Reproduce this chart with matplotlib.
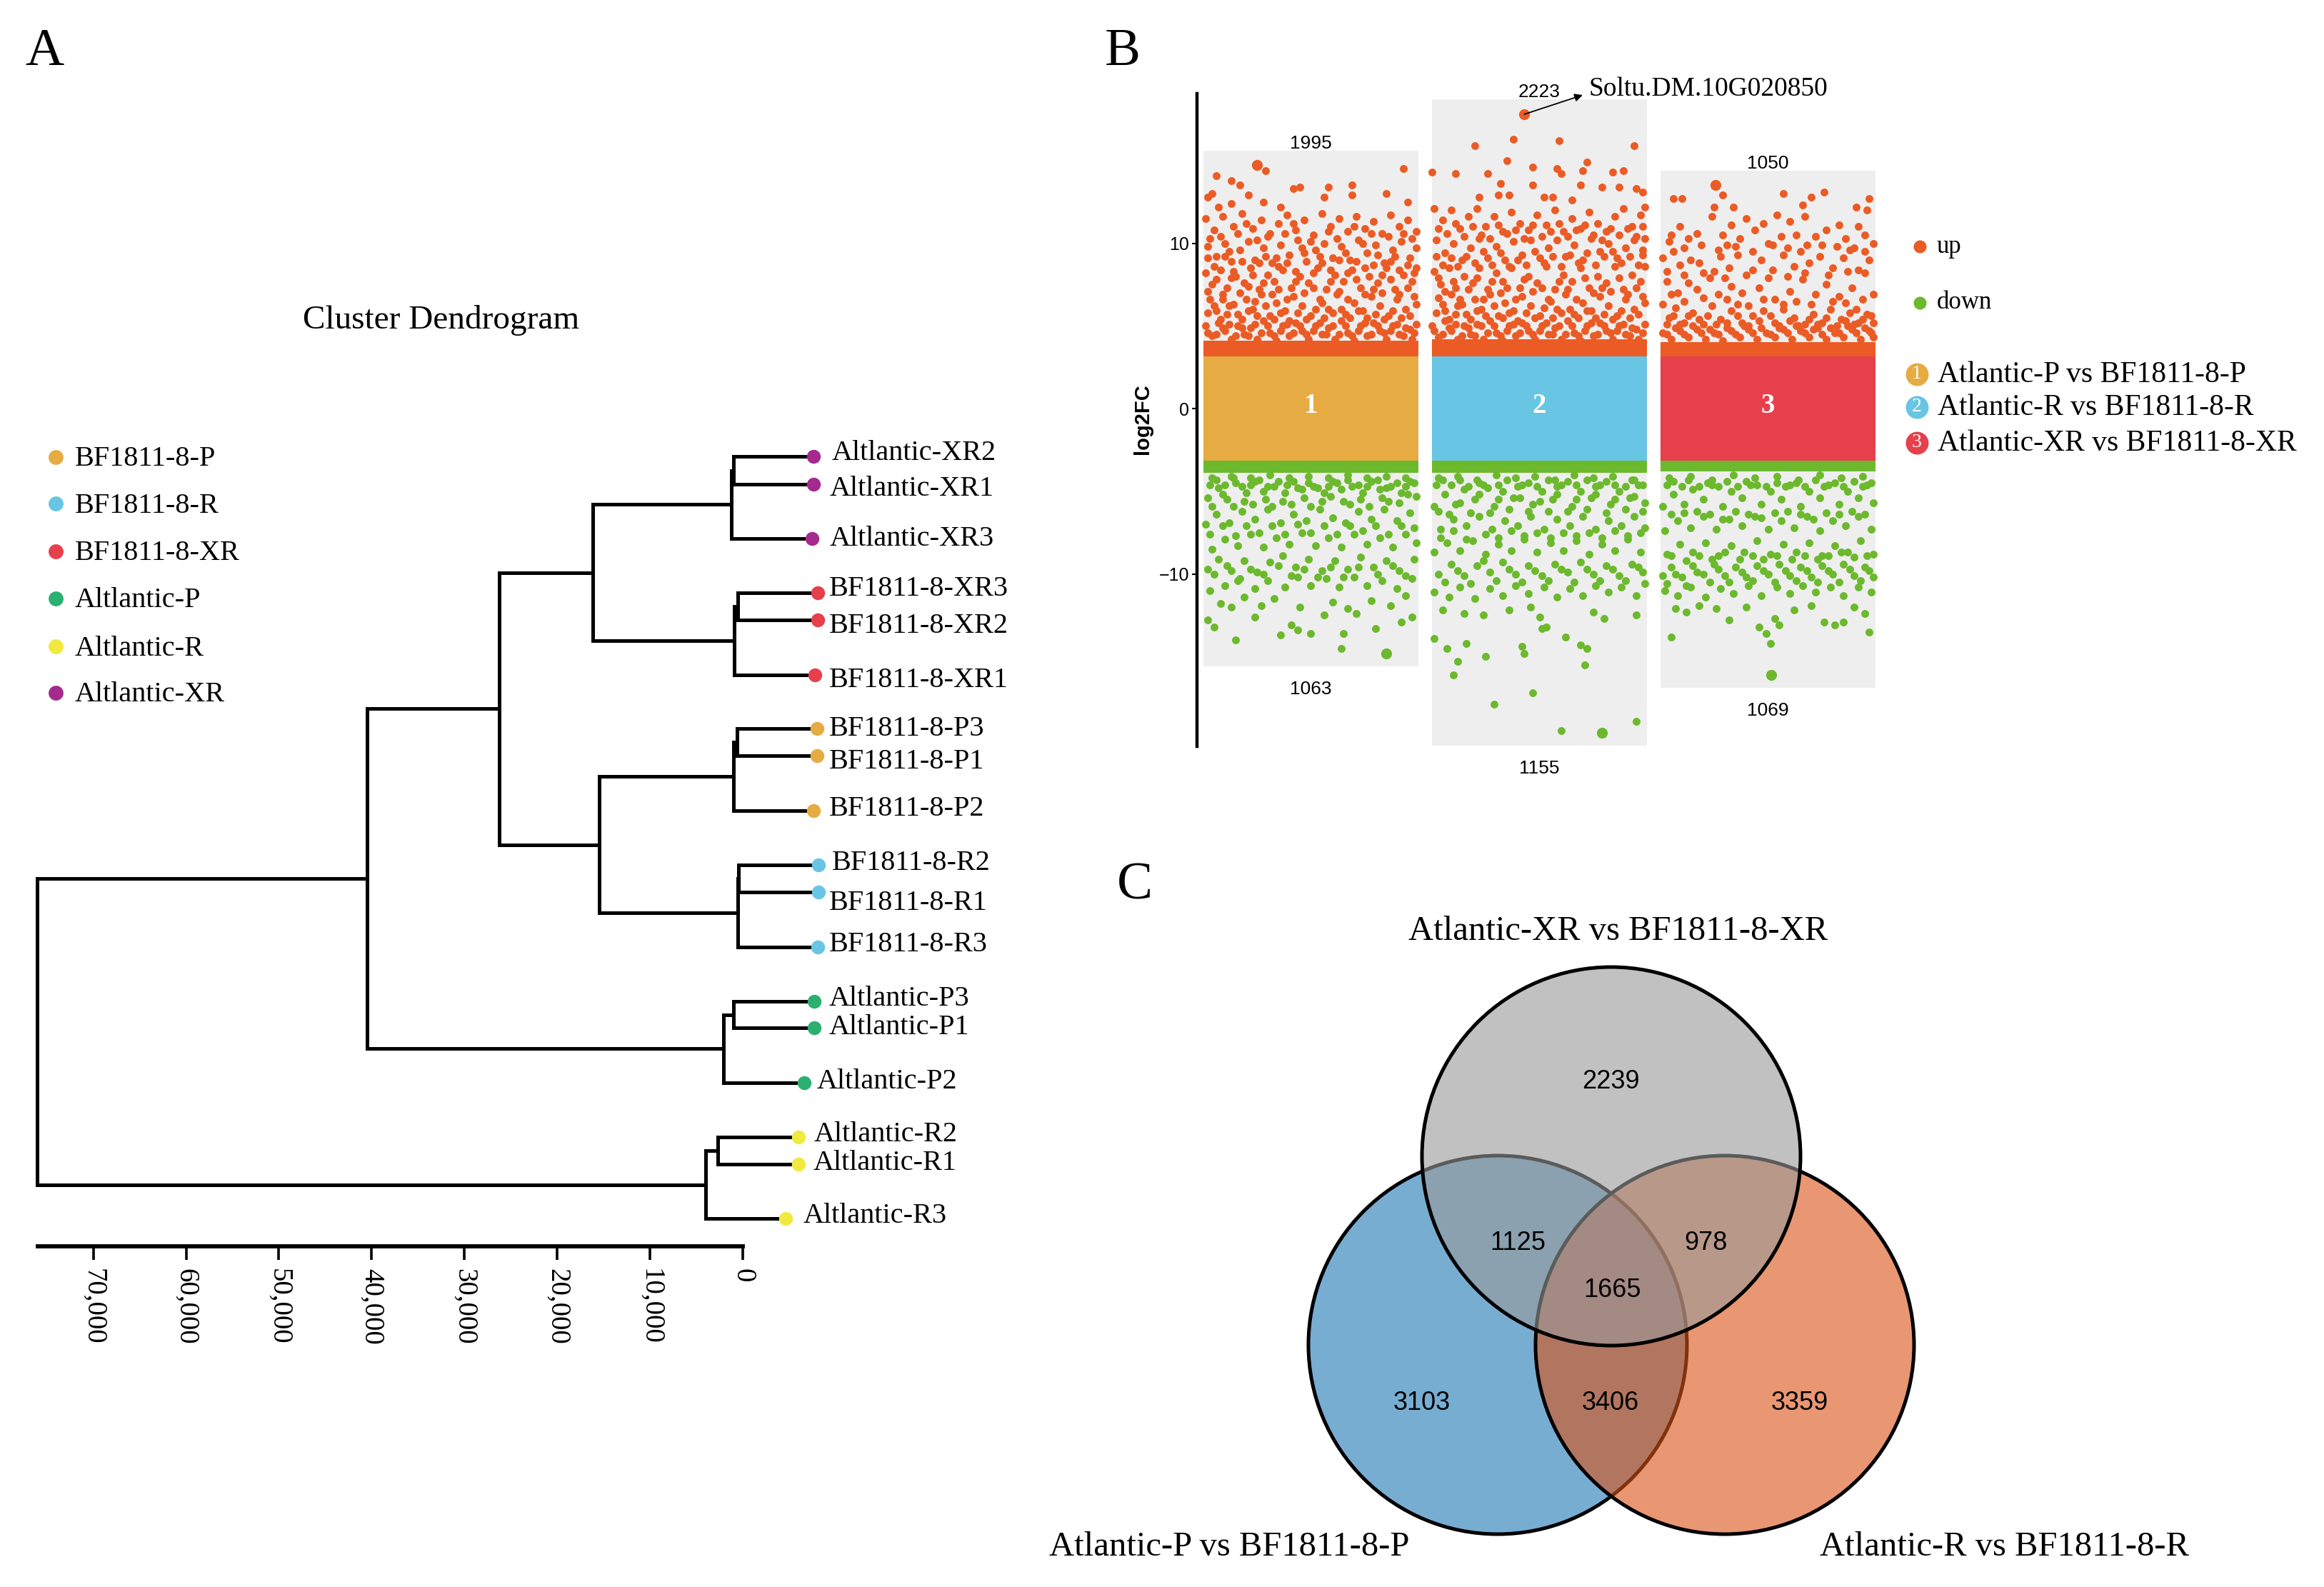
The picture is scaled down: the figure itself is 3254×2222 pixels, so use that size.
import matplotlib
matplotlib.use('Agg')
import matplotlib.pyplot as plt
from matplotlib.patches import Circle

W, H = 3255, 2222
SERIF = 'Liberation Serif'
SANS = 'Liberation Sans'

# ---- panel A data
leaf_names = ['Altlantic-XR2', 'Altlantic-XR1', 'Altlantic-XR3', 'BF1811-8-XR3', 'BF1811-8-XR2', 'BF1811-8-XR1',
              'BF1811-8-P3', 'BF1811-8-P1', 'BF1811-8-P2', 'BF1811-8-R2', 'BF1811-8-R1', 'BF1811-8-R3',
              'Altlantic-P3', 'Altlantic-P1', 'Altlantic-P2', 'Altlantic-R2', 'Altlantic-R1', 'Altlantic-R3']
leaf_row = [639, 678, 754, 830, 868, 945, 1020, 1058, 1135, 1211, 1249, 1326, 1402, 1439, 1516, 1592, 1630, 1706]
leaf_end = [-7620, -7620, -7470, -8080, -8080, -7780, -8000, -8000, -7620, -8160, -8160, -8080,
            -7700, -7700, -6620, -6000, -6000, -4620]
leaf_group = [5, 5, 5, 2, 2, 2, 0, 0, 0, 1, 1, 1, 3, 3, 3, 4, 4, 4]
merge_a = [0, 18, 3, 20, 19, 6, 23, 9, 25, 24, 22, 12, 29, 28, 15, 32, 31]
merge_b = [1, 2, 4, 5, 21, 7, 8, 10, 11, 26, 27, 13, 14, 30, 16, 17, 33]
merge_h = [1000, 1230, 540, 920, 16170, 620, 1000, 460, 540, 15470, 26250, 1000, 2080, 40490, 2690, 4000, 76060]
group_names = ['BF1811-8-P', 'BF1811-8-R', 'BF1811-8-XR', 'Altlantic-P', 'Altlantic-R', 'Altlantic-XR']
group_colors = ['#E6AB43', '#68C5E3', '#E5404B', '#2BB06F', '#F0E93F', '#A42A8E']
dist_ticks = [0, 10000, 20000, 30000, 40000, 50000, 60000, 70000]
dist_labels = ['0', '10,000', '20,000', '30,000', '40,000', '50,000', '60,000', '70,000']

# ---- panel B data
panel_pos = [1, 2, 3]
panel_top = [15.6, 18.7, 14.4]
panel_bot = [-15.6, -20.4, -16.9]
band_limit = 3.15
up_solid_top = [4.1, 4.2, 4.0]
down_solid_bot = [-3.9, -3.9, -3.8]
count_up = ['1995', '2223', '1050']
count_down = ['1063', '1155', '1069']
band_colors = ['#E6AB43', '#68C5E3', '#E5404B']
band_names = ['1', '2', '3']
compare_names = ['Atlantic-P vs BF1811-8-P', 'Atlantic-R vs BF1811-8-R', 'Atlantic-XR vs BF1811-8-XR']

# (percent across the column, log2FC)
big_up = [[(25, 14.75)], [(43, 17.8)], [(25.4, 13.5)]]
big_down = [[(85, -14.8)], [(79, -19.6)], [(51.5, -16.1)]]
up1 = [(29,14.4),(93,14.5),(6,14.1),(13,13.8),(17,13.5),(4,13),(2,12.8),(45,13.4),(42,13.3),(58,13.4),(69,13.5),(69,12.9),(56,12.8),(85,13),(21,12.9),(28,12.5),(95,12.5),(36,12.2),(13,12.4),(7,12.2),
(1,11.5),(5,10.8),(9,11.6),(14,11),(18,11.8),(23,10.9),(27,11.4),(31,10.6),(35,11.2),(39,11.7),(43,10.8),(47,11.4),(51,10.5),(55,11.8),(59,11),(63,11.5),(67,10.7),(71,11.6),(75,10.9),(79,11.3),(83,10.6),(87,11.7),(91,11),(95,11.4),(99,10.7),
(2,9.8),(6,9.2),(10,10),(13,8.9),(17,9.6),(21,10.1),(24,9),(28,9.7),(32,8.8),(36,9.9),(40,9.3),(44,10.2),(48,8.9),(52,9.6),(56,10),(60,9.1),(64,9.8),(68,9),(72,10.2),(76,9.4),(80,9.9),(84,8.8),(88,9.6),(92,10.1),(96,9.1),(99,9.7),
(1,8.2),(4,7.5),(8,8.4),(11,7.3),(15,8),(19,7.6),(22,8.5),(26,7.2),(30,8.1),(33,7.7),(37,8.4),(41,7.3),(45,8),(49,7.6),(53,8.5),(57,7.2),(61,8.1),(65,7.7),(69,8.4),(73,7.3),(77,8),(81,7.6),(85,8.5),(89,7.2),(93,8.1),(97,7.7),(99,8.5),
(3,6.6),(6,5.9),(9,6.9),(12,6.2),(16,5.7),(20,6.6),(23,6),(27,6.9),(31,5.6),(34,6.4),(38,5.9),(42,6.8),(46,6.2),(50,5.6),(54,6.6),(58,6),(62,6.9),(66,5.7),(70,6.4),(74,5.9),(78,6.8),(82,6.2),(86,5.6),(90,6.6),(94,6),(98,6.8),
(1,5),(4,4.4),(7,5.2),(10,4.7),(13,4.2),(16,5),(19,4.5),(22,4.9),(25,4.2),(28,5.3),(31,4.6),(34,4.1),(37,5),(40,4.4),(43,5.2),(46,4.7),(49,4.2),(52,5),(55,4.5),(58,4.9),(61,4.2),(64,5.3),(67,4.6),(70,4.1),(73,5),(76,4.4),(79,5.2),(82,4.7),(85,4.2),(88,5),(91,4.5),(94,4.9),(97,4.2),(99,5.1)]
up1_more = [(3,10.3),(8,10.4),(12,9.5),(16,10.6),(20,11.2),(25,10.2),(30,10.4),(34,9.1),(38,10.6),(42,11.2),(46,9.7),(50,10.1),(54,9.2),(58,10.7),(62,10.3),(66,9.4),(70,11),(74,10),(78,10.6),(81,9.3),(86,10.4),(89,9.2),(93,10.6),(97,10.3),
(2,9.1),(5,8.6),(10,9.2),(14,8.3),(18,8.9),(23,8.1),(26,8.8),(29,9.2),(35,8.6),(39,8.8),(43,8.3),(47,9.4),(51,8.2),(55,8.8),(59,8.4),(63,9),(67,8.2),(71,8.9),(75,8.5),(79,8.7),(83,8.1),(87,8.9),(91,8.4),(95,8.7),(98,8.2),
(2,7.1),(6,7.8),(9,6.6),(13,7.9),(17,7),(21,7.4),(24,6.5),(28,7.6),(32,6.9),(35,7.2),(39,6.6),(43,7.7),(47,7),(51,7.3),(55,6.4),(59,7.7),(63,7.1),(67,6.6),(71,7.8),(75,6.9),(79,7.2),(83,7),(87,7.8),(91,6.9),(95,7.3),(99,6.3),
(2,5.8),(5,6.2),(8,5.4),(11,5.7),(14,6.3),(18,5.4),(21,5.9),(25,5.6),(29,6.2),(33,5.4),(36,5.8),(40,5.3),(44,5.8),(48,5.4),(52,6),(56,5.5),(60,5.8),(64,6),(68,5.5),(72,5.9),(76,5.5),(80,5.7),(84,5.4),(88,5.9),(92,5.5),(96,5.6),(2,4.6),(6,4.5),(9,4.9),(12,5.1),(15,4.4),(18,4.9),(21,4.4),(24,5.1),(27,4.6),(30,5),(33,4.4),(36,4.7),(39,5.1),(42,4.6),(45,5),(48,4.5),(51,4.7),(54,5.2),(57,4.5),(60,5),(63,4.5),(66,5),(69,4.4),(72,4.7),(75,5.2),(78,4.5),(81,5),(84,4.6),(87,4.7),(90,5.1),(93,4.4),(96,4.8),(98,4.6)]
up2 = [(20,15.9),(38,16.3),(59,16.2),(94,15.9),(35,15),(47,14.6),(72,14.9),(0,14.3),(11,14.2),(26,14.2),(58,14.5),(60,14.2),(70,14.4),(89,14.4),(84,14.3),(47,13.5),(32,13.6),(69,13.5),(79,13.4),(87,13.4),(95,13.3),(98,13.1),(22,12.8),(31,12.9),(36,12.9),(52,12.8),(56,12.8),(65,12.6),
(1,12.1),(5,11.4),(9,12),(13,10.9),(17,11.6),(21,12.1),(25,11),(29,11.6),(33,10.7),(37,11.9),(41,11.2),(45,10.8),(49,11.7),(53,11.1),(57,12),(61,10.7),(65,11.5),(69,10.9),(73,11.9),(77,11.2),(81,10.7),(85,11.6),(89,12.1),(93,11),(97,11.7),(99,12.2),
(2,10.2),(6,9.4),(10,10),(14,9),(18,9.7),(22,10.3),(26,9.1),(30,9.8),(34,9),(38,10.1),(42,9.3),(46,10.2),(50,9.1),(54,9.7),(58,10.2),(62,9.2),(66,9.9),(70,9),(74,10.3),(78,9.5),(82,10),(86,9.1),(90,9.7),(94,10.2),(98,9.3),(99,10.3),
(1,8.3),(4,7.5),(8,8.5),(11,7.3),(15,8),(19,7.6),(22,8.5),(26,7.2),(30,8.2),(33,7.7),(37,8.5),(41,7.3),(45,8),(49,7.6),(53,8.6),(57,7.2),(61,8.1),(65,7.7),(69,8.5),(73,7.3),(77,8),(81,7.6),(85,8.6),(89,7.2),(93,8.1),(97,7.7),(99,8.6),
(3,6.7),(6,5.9),(9,6.9),(12,6.2),(16,5.7),(20,6.6),(23,6),(27,6.9),(31,5.6),(34,6.4),(38,5.9),(42,6.8),(46,6.2),(50,5.6),(54,6.6),(58,6),(62,6.9),(66,5.7),(70,6.4),(74,5.9),(78,6.8),(82,6.2),(86,5.6),(90,6.6),(94,6),(98,6.8),
(0,5),(3,4.3),(6,5.3),(9,4.7),(12,4.2),(15,5),(18,4.5),(21,5.1),(24,4.2),(27,5.3),(30,4.6),(33,4.1),(36,5),(39,4.4),(42,5.2),(45,4.7),(48,4.2),(51,5),(54,4.5),(57,4.9),(60,4.2),(63,5.3),(66,4.6),(69,4.1),(72,5),(75,4.4),(78,5.2),(81,4.7),(84,4.2),(87,5),(90,4.5),(93,4.9),(96,4.2),(99,5.1)]
up2_more = [(3,10.9),(7,10.6),(11,11.2),(15,10.4),(19,11),(23,10.5),(27,10.3),(31,11.1),(35,10.6),(39,10.8),(43,10.3),(47,11.1),(51,10.4),(55,10.7),(59,11.2),(63,10.4),(67,10.8),(71,11.1),(75,10.5),(79,10.2),(83,10.9),(87,10.5),(91,10.9),(95,10.4),(98,11),
(2,9.2),(5,8.7),(9,9.1),(12,8.6),(16,9.2),(20,8.8),(24,9.5),(28,8.7),(32,9.4),(36,8.6),(40,9),(44,8.7),(48,9.5),(52,8.8),(56,9.2),(60,8.6),(64,9.3),(68,8.8),(72,9.4),(76,8.7),(80,9.2),(84,9.5),(88,8.8),(92,9.2),(96,8.7),(98,9.6),
(3,7.9),(6,7.1),(10,7.7),(13,6.6),(17,7.2),(21,7.9),(24,6.6),(28,7.7),(32,7),(35,7.3),(39,6.6),(43,7.8),(47,7.1),(51,7.3),(55,6.5),(59,7.7),(63,7.2),(67,6.6),(71,7.9),(75,7),(79,7.3),(83,7.1),(87,7.9),(91,6.9),(95,7.3),(99,6.4),
(2,5.8),(5,6.3),(8,5.4),(11,5.7),(14,6.3),(18,5.4),(21,5.9),(25,5.6),(29,6.2),(33,5.5),(36,5.8),(40,5.3),(44,5.8),(48,5.5),(52,6.1),(56,5.5),(60,5.8),(64,6),(68,5.5),(72,5.9),(76,5.5),(80,5.7),(84,5.4),(88,5.9),(92,5.5),(96,5.7),(1,4.7),(5,4.5),(8,4.9),(11,5.1),(14,4.4),(17,4.9),(20,4.4),(23,5),(26,4.6),(29,5),(32,4.4),(35,4.7),(38,5.1),(41,4.6),(44,5),(47,4.5),(50,4.7),(53,5.2),(56,4.5),(59,5),(62,4.5),(65,5),(68,4.4),(71,4.7),(74,5.2),(77,4.5),(80,5),(83,4.6),(86,4.7),(89,5.1),(92,4.4),(95,4.8),(98,4.6)]
up3 = [(6,12.7),(10,12.7),(29,12.9),(57,13),(76,13.1),(70,12.8),(66,12.3),(97,12.7),(34,12.2),(25,12.2),(91,12.2),(96,12),
(24,11.6),(33,11.1),(40,11.5),(48,11.2),(54,11.7),(60,11.3),(67,11.6),(83,11.1),(92,11),(5,10.5),(9,11),(13,10.3),(17,10.6),(29,10.5),(31,9.9),(37,10.3),(44,10.8),(50,10),(56,10.4),(59,9.7),(63,10.5),(68,9.9),(72,10.4),(77,10.8),(82,9.8),(86,10.3),(90,9.7),(95,10.5),(99,10),
(1,9.1),(6,9.5),(9,8.7),(14,9),(20,8.2),(28,9.2),(32,8.5),(36,9.3),(40,8.1),(47,9),(52,8.4),(57,9.3),(62,8.6),(69,8.8),(74,9.2),(80,8.5),(85,9.1),(92,8.4),(97,9),
(3,7.7),(8,7),(13,7.6),(17,7.2),(23,7.9),(27,6.9),(33,7.4),(38,7),(46,7.3),(53,6.6),(60,7.1),(63,6.5),(66,7.8),(72,6.9),(77,7.5),(83,6.8),(89,7.3),(94,6.6),(99,6.9),
(1,6.3),(4,5.5),(7,6.1),(11,5.2),(15,5.8),(20,5.1),(24,6.2),(28,5.4),(33,5.9),(38,5.2),(43,5.6),(48,5.9),(53,5.2),(57,6),(62,5.5),(67,5.1),(71,5.7),(75,5.2),(79,6),(84,5.4),(88,5.8),(92,5.2),(96,5.7),(99,5.2),
(1,4.6),(5,4.2),(9,4.7),(13,4.3),(17,4.8),(21,4.2),(25,4.6),(29,4.1),(33,4.7),(37,4.3),(41,4.8),(45,4.2),(49,4.6),(53,4.3),(57,4.8),(61,4.2),(65,4.7),(69,4.3),(73,4.9),(77,4.2),(81,4.6),(85,4.3),(89,4.8),(93,4.2),(97,4.7),(99,4.3)]
up3_more = [(4,10.1),(11,9.7),(19,9.9),(27,9.6),(35,9.8),(43,9.5),(52,9.9),(65,9.5),(75,9.9),(88,9.6),(95,9.5),
(3,8.3),(11,8.1),(18,8.8),(25,8.3),(30,7.9),(43,8.4),(50,7.9),(59,8),(67,8.2),(78,8.1),(87,8.3),(95,8.2),(5,6.9),(11,6.5),(20,6.7),(31,6.6),(36,6.3),(41,6.2),(48,6.6),(57,6.3),(70,6.3),(80,6.5),(86,6.4),(91,6),
(3,5.1),(6,5.6),(9,5.1),(13,5.6),(18,5.4),(22,5.6),(26,5.1),(31,5.2),(36,5.6),(41,5),(46,5.3),(51,5.6),(55,5),(60,5.3),(64,5),(69,5.4),(73,5.1),(77,5.5),(82,5),(86,5.3),(90,5.1),(94,5.4),(98,5.6),
(3,4.5),(7,4.9),(11,4.5),(15,5),(19,4.6),(23,4.8),(27,4.5),(31,4.9),(35,4.5),(39,5),(43,4.6),(47,4.9),(51,4.5),(55,4.9),(59,4.6),(63,5),(67,4.6),(71,4.8),(75,4.5),(79,4.9),(83,4.6),(87,5),(91,4.6),(95,4.9),(98,4.6)]
down1 = [(15,-14),(36,-13.7),(64,-14.5),(80,-13.3),(50,-13.6),(44,-13.4),(41,-13.1),(65,-13.6),(92,-12.9),(2,-12.8),(5,-13.2),(97,-12.6),(56,-12.5),(71,-12.4),(24,-12.6),
(8,-11.8),(13,-12),(19,-11.4),(27,-11.9),(33,-11.5),(45,-12),(60,-11.7),(67,-12.1),(78,-11.6),(87,-11.9),(94,-11.3),(3,-11),(10,-10.7),(17,-10.3),(24,-10.9),(30,-10.4),(38,-10.8),(44,-10.2),(50,-10.7),(57,-10.3),(63,-10.8),(70,-10.2),(76,-10.7),(83,-10.4),(90,-10.9),(97,-10.3),
(2,-9.7),(7,-9.1),(13,-9.8),(19,-9.2),(25,-9.9),(31,-9.3),(37,-8.9),(43,-9.6),(49,-9.1),(55,-9.8),(61,-9.2),(67,-9.7),(73,-9),(79,-9.6),(85,-9.2),(91,-9.8),(98,-9.1),
(4,-8.5),(10,-7.9),(16,-8.3),(22,-7.6),(28,-8.4),(34,-7.8),(40,-8.2),(46,-7.5),(52,-8.3),(58,-7.8),(64,-8.4),(70,-7.6),(76,-8.2),(82,-7.8),(88,-8.4),(94,-7.6),(99,-8.1),
(1,-7),(6,-6.4),(12,-6.9),(18,-6.2),(24,-6.7),(30,-6.1),(36,-6.9),(42,-6.4),(48,-6.8),(54,-6.1),(60,-6.6),(66,-6.9),(72,-6.2),(78,-6.7),(84,-6.1),(90,-6.8),(96,-6.3),
(2,-5.4),(7,-4.8),(11,-5.5),(15,-4.5),(20,-5.1),(24,-4.4),(29,-5.5),(33,-4.7),(38,-5.1),(42,-4.4),(47,-5.4),(51,-4.7),(56,-5.1),(60,-4.4),(65,-5.6),(69,-4.7),(74,-5.1),(78,-4.4),(83,-5.4),(87,-4.7),(92,-5.1),(96,-4.4),(99,-5.3),
(4,-4.2),(13,-4.1),(22,-4.2),(31,-4),(40,-4.2),(49,-4.1),(58,-4.2),(67,-4),(76,-4.2),(85,-4.1),(94,-4.2)]
down1_more = [(5,-10),(11,-9.5),(16,-10.4),(22,-9.7),(28,-10),(35,-9.5),(41,-10.1),(47,-9.7),(53,-10.2),(59,-9.6),(65,-10.2),(72,-9.6),(81,-10),(88,-9.5),(94,-10.1),
(3,-7.6),(9,-7.1),(15,-7.7),(20,-7.1),(26,-7.5),(32,-7.1),(38,-7.6),(44,-7),(50,-7.5),(56,-7.1),(62,-7.6),(68,-7.1),(74,-7.4),(80,-7.1),(86,-7.6),(92,-7.1),(98,-7.2),
(4,-5.9),(9,-5.2),(14,-5.9),(19,-5.6),(23,-5.8),(28,-5),(32,-5.9),(37,-5.6),(41,-5.8),(46,-4.9),(50,-5.9),(55,-5.6),(59,-5.3),(64,-4.9),(68,-5.8),(73,-5.5),(77,-5.9),(82,-4.9),(86,-5.6),(91,-5.7),(95,-5.2),
(3,-4.6),(6,-4.3),(10,-4.6),(14,-4.2),(18,-4.7),(22,-4.6),(26,-4.3),(30,-4.7),(35,-4.4),(39,-4.6),(44,-4.8),(49,-4.5),(53,-4.8),(58,-4.7),(62,-4.5),(67,-4.3),(72,-4.6),(76,-4.7),(81,-4.3),(85,-4.8),(90,-4.5),(94,-4.7),(98,-4.5)]
down2 = [(95,-18.9),(60,-19.5),(29,-17.9),(47,-17.2),(10,-16.1),(12,-15.3),(25,-15),(1,-13.9),(7,-14.5),(16,-14.2),(42,-14.4),(43,-14.8),(71,-15.5),(72,-14.5),(69,-14.3),(62,-13.8),(51,-13.3),(53,-13.2),
(5,-12.2),(15,-12.4),(24,-12.5),(36,-12.2),(46,-12),(50,-12.6),(75,-12.3),(80,-12.7),(95,-12.5),(1,-11.1),(8,-11.4),(13,-10.8),(20,-11.5),(27,-10.9),(33,-11.3),(39,-10.7),(45,-11.2),(52,-10.8),(58,-11.4),(64,-10.9),(70,-11.3),(76,-10.7),(82,-11.1),(88,-10.8),(95,-11.3),(99,-10.6),
(3,-10),(9,-9.4),(15,-10.1),(21,-9.5),(27,-9.9),(33,-9.3),(39,-10),(45,-9.5),(51,-10.1),(57,-9.4),(63,-9.9),(69,-9.3),(75,-10),(81,-9.5),(87,-10.1),(93,-9.4),(98,-9.9),
(1,-8.7),(7,-8.1),(13,-8.6),(19,-8),(25,-8.8),(31,-8.2),(37,-8.6),(43,-7.9),(49,-8.7),(55,-8.1),(61,-8.6),(67,-8),(73,-8.8),(79,-8.2),(85,-8.6),(91,-7.9),(97,-8.7),
(4,-7.3),(10,-6.7),(16,-7.1),(22,-6.5),(28,-7.3),(34,-6.8),(40,-7.1),(46,-6.5),(52,-7.3),(58,-6.7),(64,-7.1),(70,-6.5),(76,-7.3),(82,-6.8),(88,-7.1),(94,-6.5),(99,-7.2),
(1,-5.9),(6,-5.2),(11,-5.8),(15,-4.9),(20,-5.5),(24,-4.6),(29,-5.9),(33,-5),(38,-5.4),(42,-4.6),(47,-5.8),(51,-5),(56,-5.5),(60,-4.6),(65,-5.9),(69,-5),(74,-5.4),(78,-4.6),(83,-5.8),(87,-5),(92,-5.4),(96,-4.6),(99,-5.7),
(3,-4.2),(12,-4.1),(21,-4.3),(30,-4),(39,-4.2),(48,-4.1),(57,-4.3),(66,-4),(75,-4.2),(84,-4.1),(93,-4.3)]
down2_more = [(6,-10.5),(12,-9.8),(18,-10.6),(24,-9.2),(30,-10.4),(36,-9.7),(42,-10.5),(48,-9.8),(54,-10.4),(60,-9.7),(66,-10.5),(72,-9.7),(78,-10.4),(84,-9.7),(90,-10.4),(96,-9.6),
(4,-7.8),(10,-7.4),(16,-7.9),(25,-7.6),(31,-7.8),(37,-7.4),(43,-7.7),(49,-7.5),(55,-7.8),(61,-7.5),(67,-7.7),(73,-7.5),(79,-7.8),(85,-7.4),(91,-7.7),(97,-7.5),
(3,-6.2),(8,-6.4),(13,-5.7),(18,-6.3),(22,-5.2),(27,-6.3),(31,-5.5),(36,-6.1),(41,-5.4),(45,-6.2),(50,-5.6),(54,-6.2),(58,-5.2),(63,-6.2),(67,-5.5),(72,-6.1),(76,-5.2),(81,-6.3),(85,-5.5),(90,-6.1),(94,-5.3),(98,-6.2),
(2,-4.6),(5,-4.3),(9,-4.6),(13,-4.3),(17,-4.7),(22,-4.5),(26,-4.8),(31,-4.6),(35,-4.3),(40,-4.7),(45,-4.5),(49,-4.7),(54,-4.3),(58,-4.7),(63,-4.4),(67,-4.6),(72,-4.3),(76,-4.7),(81,-4.4),(85,-4.6),(90,-4.7),(94,-4.3),(98,-4.6)]
down3 = [(51,-14.2),(49,-13.6),(5,-13.8),(46,-13.2),(97,-13.5),(32,-12.8),(53,-12.7),(55,-13.1),(76,-12.9),(81,-13.1),(85,-12.9),(95,-12.4),
(7,-12.1),(12,-12.3),(18,-11.9),(26,-12.1),(40,-12),(62,-12.2),(70,-11.9),(90,-12),(2,-11),(8,-11.3),(14,-10.8),(21,-11.4),(28,-10.9),(34,-11.2),(41,-10.7),(47,-11.3),(54,-10.8),(60,-11.2),(66,-10.7),(72,-11.1),(79,-10.8),(85,-11.3),(92,-10.8),(98,-11.1),
(1,-10.1),(5,-9.6),(10,-10.2),(15,-9.5),(20,-10),(25,-9.4),(30,-10.1),(35,-9.6),(40,-10.2),(45,-9.5),(50,-10),(55,-9.4),(60,-10.1),(65,-9.6),(70,-10.2),(75,-9.5),(80,-10),(85,-9.4),(90,-10.1),(95,-9.6),(99,-10.2),
(3,-8.8),(9,-8.2),(15,-8.7),(21,-8.1),(27,-8.9),(33,-8.3),(39,-8.7),(45,-8),(51,-8.8),(57,-8.2),(63,-8.7),(69,-8.1),(75,-8.9),(81,-8.3),(87,-8.7),(93,-8),(99,-8.8),
(2,-7.4),(8,-6.8),(14,-7.2),(20,-6.5),(26,-7.3),(32,-6.7),(38,-7.1),(44,-6.5),(50,-7.3),(56,-6.8),(62,-7.2),(68,-6.5),(74,-7.4),(80,-6.8),(86,-7.1),(92,-6.5),(98,-7.3),
(1,-5.9),(6,-5.2),(11,-5.8),(15,-4.9),(20,-5.5),(24,-4.6),(29,-5.9),(33,-5),(38,-5.4),(42,-4.6),(47,-5.8),(51,-5),(56,-5.5),(60,-4.6),(65,-5.9),(69,-5),(74,-5.4),(78,-4.6),(83,-5.8),(87,-5),(92,-5.4),(96,-4.6),(99,-5.7),
(4,-4.2),(14,-4.1),(24,-4.3),(34,-4),(44,-4.2),(54,-4.1),(64,-4.3),(74,-4),(84,-4.2),(94,-4.1)]
down3_more = [(3,-10.6),(7,-10),(12,-10.7),(17,-9.9),(23,-10.5),(27,-9.7),(32,-10.5),(38,-9.9),(43,-10.4),(48,-9.8),(53,-10.5),(58,-9.8),(63,-10.4),(68,-9.8),(73,-10.5),(78,-9.8),(83,-10.5),(88,-9.7),(93,-10.4),(97,-9.8),
(5,-8.9),(12,-9.2),(18,-8.9),(24,-9.1),(30,-8.7),(37,-9.1),(43,-8.9),(48,-9.1),(54,-8.9),(61,-9.1),(67,-8.9),(73,-9.1),(78,-8.9),(84,-8.7),(90,-9),(96,-8.9),
(5,-6.4),(11,-6.3),(17,-6.2),(23,-6.4),(29,-6.7),(35,-6.2),(41,-6.4),(47,-6.6),(53,-6.3),(59,-6.2),(65,-6.4),(71,-6.7),(77,-6.3),(83,-6.4),(89,-6.2),(95,-6.4),
(3,-4.6),(6,-4.4),(10,-4.7),(13,-4.3),(18,-4.7),(22,-4.5),(27,-4.7),(31,-4.4),(36,-4.7),(40,-4.4),(45,-4.6),(49,-4.7),(54,-4.5),(58,-4.7),(63,-4.5),(67,-4.7),(72,-4.3),(76,-4.7),(81,-4.5),(85,-4.7),(90,-4.4),(94,-4.7),(98,-4.5)]
ups = [up1 + up1_more, up2 + up2_more, up3 + up3_more]
downs = [down1 + down1_more, down2 + down2_more, down3 + down3_more]

# ---- panel C data
venn_names = ['Atlantic-P vs BF1811-8-P', 'Atlantic-R vs BF1811-8-R', 'Atlantic-XR vs BF1811-8-XR']
venn_counts = ['2239', '1125', '978', '1665', '3103', '3406', '3359']
venn_count_xy = [(2255, 1514), (2125, 1740), (2388, 1740), (2258, 1806), (1991, 1965), (2255, 1965), (2520, 1965)]

fig = plt.figure(figsize=(W / 100, H / 100), dpi=100, facecolor='white')


def px_axes(x0, y0, x1, y1):
    return fig.add_axes([x0 / W, 1 - y1 / H, (x1 - x0) / W, (y1 - y0) / H])


# ---------- A: dendrogram
PX_PER_UNIT = 0.01299
ax_a = px_axes(0, 0, 1500, H)
ax_a.patch.set_alpha(0)
ax_a.set_xlim(1040 / PX_PER_UNIT, (1040 - 1500) / PX_PER_UNIT)
ax_a.set_ylim(H, 0)
node_y = list(leaf_row)
node_h = list(leaf_end)
for a, b, h in zip(merge_a, merge_b, merge_h):
    ax_a.plot([node_h[a], h, h, node_h[b]], [node_y[a], node_y[a], node_y[b], node_y[b]],
              color='black', lw=3.6, solid_joinstyle='miter', solid_capstyle='butt')
    node_y.append((node_y[a] + node_y[b]) / 2)
    node_h.append(h)
for i in range(len(leaf_names)):
    ax_a.plot(leaf_end[i], leaf_row[i], 'o', ms=14, mew=0, color=group_colors[leaf_group[i]], zorder=3)
for s in ['top', 'left', 'right']:
    ax_a.spines[s].set_visible(False)
ax_a.spines['bottom'].set_position(('data', 1745))
ax_a.spines['bottom'].set_bounds(0, 76000)
ax_a.spines['bottom'].set_linewidth(4.2)
ax_a.set_yticks([])
ax_a.set_xticks(dist_ticks)
ax_a.set_xticklabels(dist_labels, rotation=-90, family=SERIF, fontsize=28)
ax_a.tick_params(axis='x', length=14, width=2.6, pad=8)

# ---------- B: volcano columns
ax_b = px_axes(1676, 131, 2640, 1045)
ax_b.patch.set_alpha(0)
ax_b.set_xlim(0.5016, 3.514)
ax_b.set_ylim(-20.43, 19.05)
half = 0.47
for i, x in enumerate(panel_pos):
    ax_b.bar(x, panel_top[i] - panel_bot[i], bottom=panel_bot[i], width=half * 2, color='#EEEEEE', zorder=1)
    ax_b.bar(x, up_solid_top[i] - band_limit, bottom=band_limit, width=half * 2, color='#EB5B25', zorder=2)
    ax_b.bar(x, down_solid_bot[i] + band_limit, bottom=-band_limit, width=half * 2, color='#6CB92D', zorder=2)
    ax_b.bar(x, band_limit * 2, bottom=-band_limit, width=half * 2, color=band_colors[i], zorder=4)
    ax_b.text(x, 0.15, band_names[i], color='white', family=SERIF, weight='bold', fontsize=28,
              ha='center', va='center', zorder=5)
    for pts, col, size in [(ups[i], '#EB5B25', 62), (downs[i], '#6CB92D', 62),
                           (big_up[i], '#EB5B25', 120), (big_down[i], '#6CB92D', 120)]:
        xs = [x + (p[0] - 50) / 100 * half * 2 for p in pts]
        ys = [p[1] for p in pts]
        ax_b.scatter(xs, ys, s=size, color=col, linewidths=0, zorder=3, clip_on=False)
    ax_b.text(x, panel_top[i] + 0.43, count_up[i], family=SANS, fontsize=19, ha='center', va='center')
    ax_b.text(x, panel_bot[i] - 1.38, count_down[i], family=SANS, fontsize=19, ha='center', va='center')
for s in ['top', 'right', 'bottom']:
    ax_b.spines[s].set_visible(False)
ax_b.spines['left'].set_linewidth(3.2)
ax_b.set_xticks([])
ax_b.set_yticks([-10, 0, 10])
ax_b.tick_params(axis='y', length=5, width=1.5, pad=3)
for t in ax_b.get_yticklabels():
    t.set_family(SANS)
    t.set_fontsize(18)
ax_b.annotate('', xy=(2.189, 18.96), xytext=(1.934, 17.8),
              arrowprops=dict(arrowstyle='-|>', color='black', lw=1.3, shrinkA=0, shrinkB=0, mutation_scale=16))

# ---------- overlay: legends, text, venn in picture pixels
ov = px_axes(0, 0, W, H)
ov.set_xlim(0, W)
ov.set_ylim(H, 0)
ov.axis('off')
ov.patch.set_alpha(0)

ov.text(1600, 587, 'log2FC', family=SANS, weight='bold', fontsize=21, rotation=90, ha='center', va='center')
ov.text(2225, 125, 'Soltu.DM.10G020850', family=SERIF, fontsize=27, ha='left', va='center')

# panel letters and dendrogram title
for letter, lx, ly in [('A', 62, 73), ('B', 1572, 73), ('C', 1589, 1241)]:
    ov.text(lx, ly, letter, family=SERIF, fontsize=54, ha='center', va='center')
ov.text(618, 448, 'Cluster Dendrogram', family=SERIF, fontsize=34, ha='center', va='center')

# dendrogram legend and leaf labels
legend_y = [640, 705, 772, 838, 905, 970]
for name, col, ly in zip(group_names, group_colors, legend_y):
    ov.plot(78, ly, 'o', ms=15, mew=0, color=col)
    ov.text(105, ly + 3, name, family=SERIF, fontsize=29, ha='left', va='center')
label_x = [1165, 1162, 1162, 1161, 1161, 1161, 1161, 1161, 1161, 1165, 1161, 1161, 1161, 1161, 1144, 1140, 1139, 1125]
label_y = [634, 684, 754, 824, 876, 952, 1021, 1067, 1133, 1209, 1265, 1323, 1399, 1438, 1514, 1589, 1629, 1703]
for name, lx, ly in zip(leaf_names, label_x, label_y):
    ov.text(lx, ly, name, family=SERIF, fontsize=29, ha='left', va='center')

# B legends
for name, col, ly in [('up', '#EB5B25', 345), ('down', '#6CB92D', 424)]:
    ov.plot(2688, ly, 'o', ms=13, mew=0, color=col)
    ov.text(2712, ly, name, family=SERIF, fontsize=25, ha='left', va='center')
for i, ly in enumerate([524, 570, 620]):
    ov.plot(2684, ly, 'o', ms=23, mew=0, color=band_colors[i])
    ov.text(2684, ly, band_names[i], color='white', family=SERIF, fontsize=20, ha='center', va='center')
    ov.text(2713, ly + 1, compare_names[i], family=SERIF, fontsize=30, ha='left', va='center')

# C: venn
venn_circles = [((2097, 1883), '#1F77B4'), ((2415, 1883), '#DA5214'), ((2256, 1619), '#999999')]
for (cx, cy), col in venn_circles:
    ov.add_patch(Circle((cx, cy), 265, facecolor=matplotlib.colors.to_rgba(col, 0.6),
                        edgecolor='black', lw=3.6))
for txt, (tx, ty) in zip(venn_counts, venn_count_xy):
    ov.text(tx, ty, txt, family=SANS, fontsize=26, ha='center', va='center')
ov.text(1721, 2166, venn_names[0], family=SERIF, fontsize=35, ha='center', va='center')
ov.text(2807, 2166, venn_names[1], family=SERIF, fontsize=35, ha='center', va='center')
ov.text(2266, 1304, venn_names[2], family=SERIF, fontsize=35, ha='center', va='center')

fig.savefig('out.png', dpi=100)
